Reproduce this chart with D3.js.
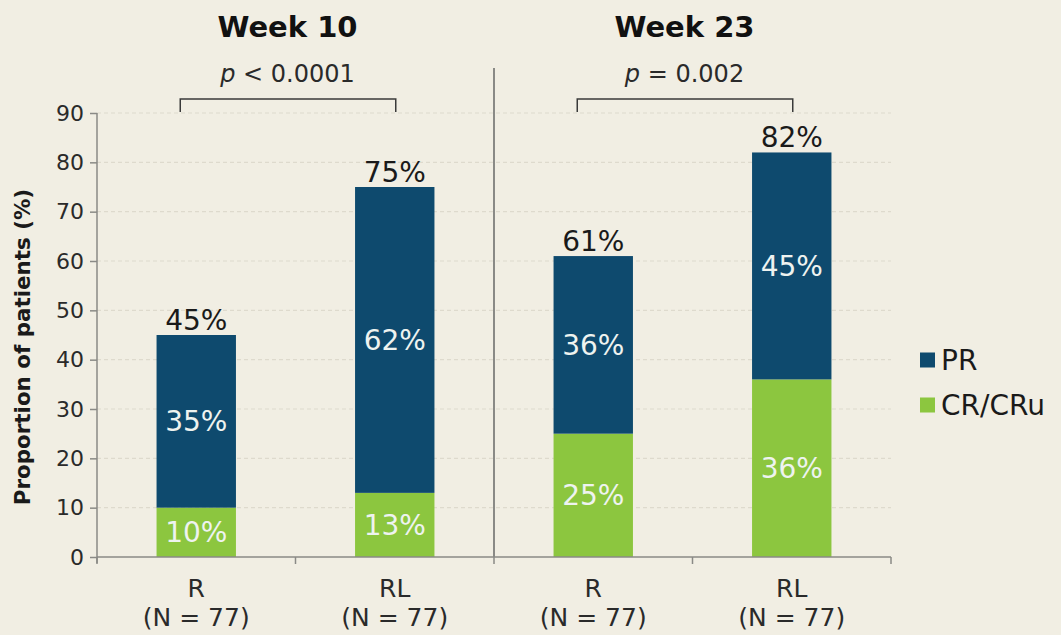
<!DOCTYPE html>
<html>
<head>
<meta charset="utf-8">
<script src="https://cdn.jsdelivr.net/npm/d3@7"></script>
<style>
  html, body { margin: 0; padding: 0; background: #f1eee3; }
  #chart { width: 1061px; height: 635px; }
  text { font-family: "DejaVu Sans", Verdana, sans-serif; }
</style>
</head>
<body>
<div id="chart"></div>
<script>
// ====== data ======
const groups     = ["w10-R", "w10-RL", "w23-R", "w23-RL"];
const arms       = ["R", "RL", "R", "RL"];
const armN       = ["(N = 77)", "(N = 77)", "(N = 77)", "(N = 77)"];
const crValues   = [10, 13, 25, 36];   // CR/CRu
const prValues   = [35, 62, 36, 45];   // PR (labels)
const totals     = [45, 75, 61, 82];   // bar tops
const weeks      = ["Week 10", "Week 23"];
const pValues    = ["< 0.0001", "= 0.002"];
const yTicks     = [0, 10, 20, 30, 40, 50, 60, 70, 80, 90];
const seriesKeys = ["CR/CRu", "PR"];
const legendKeys = ["PR", "CR/CRu"];

const colors = { "PR": "#0e4a6e", "CR/CRu": "#8cc63f" };

class StackedChart {
  constructor(id) {
    this.id = id;
    this.initSVG();
    this.initScales();
    this.drawGrid();
    this.drawBars();
    this.drawAxes();
    this.drawHeaders();
    this.drawLegend();
  }

  initSVG() {
    const div = d3.select(`#${this.id}`);
    this.width  = 1061;
    this.height = 635;
    this.margin = { top: 113, right: 171, bottom: 78, left: 97 };
    this.svg = div.append("svg")
      .attr("width", this.width)
      .attr("height", this.height);
  }

  initScales() {
    const m = this.margin;
    this.x = d3.scaleBand()
      .domain(groups)
      .range([m.left, this.width - m.right + 1])
      .paddingInner(0.6)
      .paddingOuter(0.3);
    this.y = d3.scaleLinear()
      .domain([0, 90])
      .range([this.height - m.bottom, m.top]);
  }

  drawGrid() {
    const x0 = this.margin.left, x1 = this.width - this.margin.right + 1;
    this.svg.append("g").selectAll("line")
      .data(yTicks.filter(d => d > 0))
      .join("line")
      .attr("x1", x0).attr("x2", x1)
      .attr("y1", d => this.y(d)).attr("y2", d => this.y(d))
      .attr("stroke", "#dedacd")
      .attr("stroke-width", 1.2)
      .attr("stroke-dasharray", "4,3");
  }

  drawBars() {
    // PR segment runs from CR/CRu up to the reported total
    const rows = groups.map((g, i) => ({
      g, i, "CR/CRu": crValues[i], "PR": totals[i] - crValues[i]
    }));
    const stack = d3.stack().keys(seriesKeys)(rows);
    const bw = this.x.bandwidth();

    const layers = this.svg.append("g").selectAll("g")
      .data(stack)
      .join("g")
      .attr("fill", d => colors[d.key]);

    layers.selectAll("rect")
      .data(d => d)
      .join("rect")
      .attr("x", d => this.x(d.data.g))
      .attr("width", bw)
      .attr("y", d => this.y(d[1]))
      .attr("height", d => this.y(d[0]) - this.y(d[1]));

    // labels inside segments
    layers.selectAll("text")
      .data(layer => layer.map(d => ({ d, key: layer.key })))
      .join("text")
      .attr("x", o => this.x(o.d.data.g) + bw / 2)
      .attr("y", o => (this.y(o.d[0]) + this.y(o.d[1])) / 2)
      .attr("dy", "0.36em")
      .attr("text-anchor", "middle")
      .attr("fill", "#eef3f0")
      .style("font-size", "28px")
      .text(o => `${o.key === "PR" ? prValues[o.d.data.i] : crValues[o.d.data.i]}%`);

    // totals
    this.svg.append("g").selectAll("text")
      .data(groups)
      .join("text")
      .attr("x", (g) => this.x(g) + bw / 2)
      .attr("y", (g, i) => this.y(totals[i]) - 5)
      .attr("text-anchor", "middle")
      .attr("fill", "#1a1a1a")
      .style("font-size", "28px")
      .text((g, i) => `${totals[i]}%`);
  }

  drawAxes() {
    const axisColor = "#8a8a86";
    const yAxis = this.svg.append("g")
      .attr("transform", `translate(${this.margin.left},0)`)
      .call(d3.axisLeft(this.y).tickValues(yTicks).tickSize(7).tickPadding(6));
    yAxis.select(".domain").attr("stroke", axisColor).attr("stroke-width", 1.5)
      .attr("d", `M0,${this.y(90)}V${this.y(0) + 6}`);
    yAxis.selectAll(".tick line").attr("stroke", axisColor).attr("stroke-width", 1.5);
    yAxis.selectAll(".tick text")
      .attr("fill", "#2a2a2a")
      .style("font-family", "'DejaVu Sans', Verdana, sans-serif")
      .style("font-size", "22px");

    // x axis baseline with ticks at band boundaries
    const y0 = this.y(0);
    const step = this.x.step();
    const start = this.margin.left;
    const bounds = d3.range(5).map(i => start + i * step);
    const xg = this.svg.append("g");
    xg.append("line")
      .attr("x1", start).attr("x2", bounds[4])
      .attr("y1", y0).attr("y2", y0)
      .attr("stroke", axisColor).attr("stroke-width", 1.5);
    xg.selectAll("line.tk")
      .data(bounds)
      .join("line")
      .attr("class", "tk")
      .attr("x1", d => d).attr("x2", d => d)
      .attr("y1", y0).attr("y2", y0 + 7)
      .attr("stroke", axisColor).attr("stroke-width", 1.5);

    // divider between weeks
    xg.append("line")
      .attr("x1", bounds[2]).attr("x2", bounds[2])
      .attr("y1", 68).attr("y2", y0)
      .attr("stroke", axisColor).attr("stroke-width", 2);

    // category labels
    const bw = this.x.bandwidth();
    const lab = xg.selectAll("g.lab")
      .data(groups)
      .join("g")
      .attr("class", "lab")
      .attr("transform", g => `translate(${this.x(g) + bw / 2},0)`);
    lab.append("text")
      .attr("y", 597)
      .attr("text-anchor", "middle")
      .attr("fill", "#2a2a2a")
      .style("font-size", "25px")
      .text((g, i) => arms[i]);
    lab.append("text")
      .attr("y", 626)
      .attr("text-anchor", "middle")
      .attr("fill", "#2a2a2a")
      .style("font-size", "25px")
      .text((g, i) => armN[i]);

    // y title
    this.svg.append("text")
      .attr("transform", `translate(30,${(this.y(0) + this.y(90)) / 2 + 12}) rotate(-90)`)
      .attr("text-anchor", "middle")
      .attr("fill", "#1a1a1a")
      .style("font-size", "21.4px")
      .style("font-weight", "bold")
      .text("Proportion of patients (%)");
  }

  drawHeaders() {
    const bw = this.x.bandwidth();
    const step = this.x.step();
    weeks.forEach((w, i) => {
      const gR  = groups[i * 2];
      const gRL = groups[i * 2 + 1];
      const cx = this.margin.left + step * (2 * i + 1) - 8;
      this.svg.append("text")
        .attr("x", cx).attr("y", 37)
        .attr("text-anchor", "middle")
        .attr("fill", "#111")
        .style("font-size", "29px")
        .style("font-weight", "bold")
        .text(w);

      const pt = this.svg.append("text")
        .attr("x", cx).attr("y", 82)
        .attr("text-anchor", "middle")
        .attr("fill", "#2a2a2a")
        .style("font-size", "24px");
      pt.append("tspan").style("font-style", "italic").text("p");
      pt.append("tspan").text(" " + pValues[i]);

      const xl = this.x(gR) + bw / 2 - 16;
      const xr = this.x(gRL) + bw / 2 + 1;
      this.svg.append("path")
        .attr("d", `M${xl},112V99H${xr}V112`)
        .attr("fill", "none")
        .attr("stroke", "#3a3a3a")
        .attr("stroke-width", 1.5);
    });
  }

  drawLegend() {
    const lg = this.svg.append("g").attr("transform", "translate(920,0)");
    const item = lg.selectAll("g")
      .data(legendKeys)
      .join("g")
      .attr("transform", (d, i) => `translate(0,${360 + i * 45})`);
    item.append("rect")
      .attr("x", 0).attr("y", -7.5)
      .attr("width", 15).attr("height", 15)
      .attr("fill", d => colors[d]);
    item.append("text")
      .attr("x", 21).attr("dy", "0.36em")
      .attr("fill", "#1a1a1a")
      .style("font-size", "28px")
      .text(d => d);
  }
}

new StackedChart("chart");
</script>
</body>
</html>
